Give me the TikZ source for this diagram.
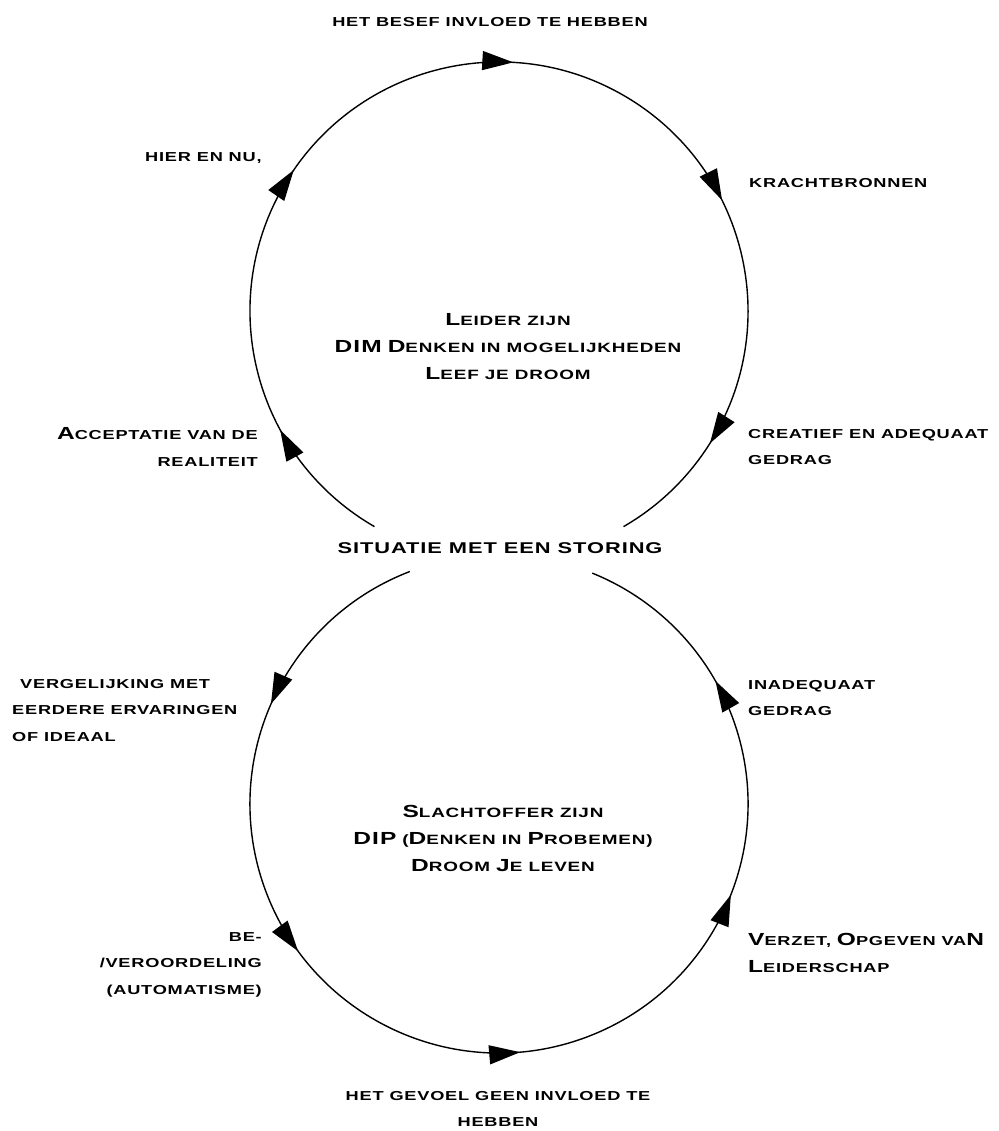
\documentclass[tikz,border=0pt]{standalone}
\usepackage{fontspec}
\usetikzlibrary{arrows.meta,decorations.markings,calc}
\newfontfamily\cpfont[FakeStretch=1.4,LetterSpace=6]{Liberation Sans}
\newcommand\BL[1]{{\fontsize{17.5}{17.5}\selectfont #1}}
\tikzset{
  lab/.style={inner sep=0pt, font={\cpfont\bfseries\fontsize{13}{26.5}\selectfont}},
  mid/.style={lab, align=center, font={\cpfont\bfseries\fontsize{13.5}{27}\selectfont}},
  ring/.style={line width=1.4pt, postaction={decorate}},
  tipa/.tip={Triangle[length=31pt,width=19pt]}
}
\begin{document}
\begin{tikzpicture}[x=1pt,y=-1pt]
\useasboundingbox[fill=white] (0,0) rectangle (998,1131);
\coordinate (c1) at (499,311);
\coordinate (c2) at (499,804);
% top cycle
\draw[ring, decoration={markings,
  mark=at position 0.105 with {\arrow{tipa}},
  mark=at position 0.315 with {\arrow{tipa}},
  mark=at position 0.511 with {\arrow{tipa}},
  mark=at position 0.712 with {\arrow{tipa}},
  mark=at position 0.907 with {\arrow{tipa}}}]
  ($(c1)+(240:249pt)$) arc[start angle=240, end angle=-60, radius=249pt];
% bottom cycle
\draw[ring, decoration={markings,
  mark=at position 0.143 with {\arrow{tipa}},
  mark=at position 0.332 with {\arrow{tipa}},
  mark=at position 0.517 with {\arrow{tipa}},
  mark=at position 0.718 with {\arrow{tipa}},
  mark=at position 0.879 with {\arrow{tipa}}}]
  ($(c2)+(111:249pt)$) arc[start angle=111, end angle=428, radius=249pt];

\node[lab] (besef) at (490,22) {HET BESEF INVLOED TE HEBBEN};
\node[lab, anchor=west] (hier) at (145,158) {HIER EN NU,};
\node[lab, anchor=west] (kracht) at (749,183) {KRACHTBRONNEN};
\node[mid] (leider) at (508,347) {\BL{L}EIDER ZIJN\\\BL{DIM} \BL{D}ENKEN IN MOGELIJKHEDEN\\\BL{L}EEF JE DROOM};
\node[lab, align=right, anchor=east] (accept) at (258,447) {\BL{A}CCEPTATIE VAN DE\\REALITEIT};
\node[lab, align=left, anchor=west] (creatief) at (748,447) {CREATIEF EN ADEQUAAT\\GEDRAG};
\node[lab, font={\cpfont\bfseries\fontsize{15.6}{20}\selectfont}] (situatie) at (500,548) {SITUATIE MET EEN STORING};
\node[lab, align=left, anchor=north west] (vergelijk) at (12,679) {\hspace{8pt}VERGELIJKING MET\\EERDERE ERVARINGEN\\OF IDEAAL};
\node[lab, align=left, anchor=west] (inadequaat) at (748,698) {INADEQUAAT\\GEDRAG};
\node[mid] (slacht) at (503,838) {\BL{S}LACHTOFFER ZIJN\\\BL{DIP} (\BL{D}ENKEN IN \BL{P}ROBEMEN)\\\BL{D}ROOM \BL{J}E LEVEN};
\node[lab, align=right, anchor=north east] (be) at (262,932) {BE-\\/VEROORDELING\\(AUTOMATISME)};
\node[lab, align=left, anchor=west] (verzet) at (748,953) {\BL{V}ERZET, \BL{O}PGEVEN VA\BL{N}\\\BL{L}EIDERSCHAP};
\node[lab, align=center] (gevoel) at (498,1109) {HET GEVOEL GEEN INVLOED TE\\HEBBEN};
\end{tikzpicture}
\end{document}
